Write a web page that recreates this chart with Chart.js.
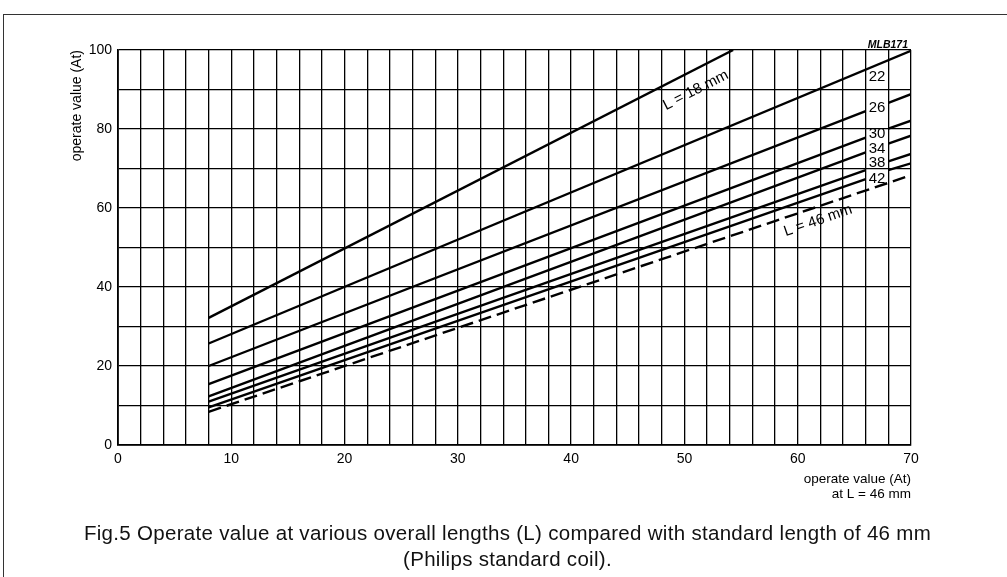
<!DOCTYPE html>
<html>
<head>
<meta charset="utf-8">
<script src="https://cdn.jsdelivr.net/npm/chart.js@4"></script>
<style>
  html, body { margin: 0; padding: 0; background: #fff; }
  body { width: 1007px; height: 577px; overflow: hidden; position: relative; font-family: "Liberation Sans", Arial, sans-serif; }
  #frame { position: absolute; left: 3px; top: 14px; width: 1100px; height: 700px; border-left: 1.5px solid #333; border-top: 1.5px solid #333; }
  #chart { position: absolute; left: 0; top: 0; }
  #caption { position: absolute; left: 0; top: 520px; width: 1015px; text-align: center; font-size: 20.5px; line-height: 26px; letter-spacing: 0.3px; color: #111; }
</style>
</head>
<body>
<div id="frame"></div>
<canvas id="chart" width="1007" height="577"></canvas>
<div id="caption">Fig.5 Operate value at various overall lengths (L) compared with standard length of 46 mm<br>(Philips standard coil).</div>
<script>
// operate value at L = 46 mm (x) vs operate value at other lengths (y)
const xShort = [8, 54.3];          // L = 18 runs off the top
const l18 = [32.2, 100];
const xFull = [8, 70];
const l22 = [25.7, 99.8];
const l46 = [8.4, 68.3];
// these curves are broken where the length label sits
const xBroken = [8, 66, 67, 68, 70];
const l26 = [20.0, 84.5, null, 86.6, 88.8];
const l30 = [15.4, 77.8, null, 80.1, 82.1];
const l34 = [12.3, 74.1, null, 76.3, 78.3];
const l38 = [11.0, 69.6, null, 71.8, 73.7];
const l42 = [9.5, 67.3, null, 69.6, 71.3];

// curve labels
const lengthLabels = ['22', '26', '30', '34', '38', '42'];
const lengthLabelX = 67;
const lengthLabelY = [93.3, 85.4, 78.7, 74.9, 71.5, 67.4];
const slantLabels = ['L = 18 mm', 'L = 46 mm'];
const slantX = [51.0, 61.8];
const slantY = [89.8, 56.8];
const slantAngle = [-27, -19];

const FONT = '"Liberation Sans", Arial, sans-serif';

function pts(xs, ys) {
  return xs.map((x, i) => ({ x: x, y: ys[i] }));
}

function curve(xs, ys, dashed) {
  return {
    data: pts(xs, ys),
    borderColor: '#000',
    borderWidth: 2.4,
    borderDash: dashed ? [13, 6] : [],
    pointRadius: 0,
    fill: false,
    spanGaps: false,
    tension: 0
  };
}

const curveLabels = {
  id: 'curveLabels',
  afterDatasetsDraw(chart) {
    const { ctx, scales: { x, y }, chartArea } = chart;
    ctx.save();
    ctx.fillStyle = '#000';
    ctx.textAlign = 'center';
    ctx.textBaseline = 'middle';
    ctx.font = '15px ' + FONT;
    lengthLabels.forEach((t, i) => {
      ctx.fillText(t, x.getPixelForValue(lengthLabelX), y.getPixelForValue(lengthLabelY[i]));
    });
    slantLabels.forEach((t, i) => {
      ctx.save();
      ctx.translate(x.getPixelForValue(slantX[i]), y.getPixelForValue(slantY[i]));
      ctx.rotate(slantAngle[i] * Math.PI / 180);
      ctx.fillText(t, 0, 0);
      ctx.restore();
    });
    // drawing code
    ctx.font = 'italic bold 10.5px ' + FONT;
    ctx.textAlign = 'right';
    ctx.textBaseline = 'alphabetic';
    ctx.fillText('MLB171', chartArea.right - 3, chartArea.top - 2);
    ctx.restore();
  }
};

new Chart(document.getElementById('chart'), {
  type: 'line',
  data: {
    datasets: [
      curve(xShort, l18),
      curve(xFull, l22),
      curve(xBroken, l26),
      curve(xBroken, l30),
      curve(xBroken, l34),
      curve(xBroken, l38),
      curve(xBroken, l42),
      curve(xFull, l46, true)
    ]
  },
  options: {
    responsive: false,
    animation: false,
    devicePixelRatio: 1,
    layout: { padding: { left: 68, top: 50, right: 96, bottom: 75 } },
    plugins: {
      legend: { display: false },
      tooltip: { enabled: false }
    },
    scales: {
      x: {
        type: 'linear',
        min: 0,
        max: 70,
        afterFit(scale) { scale.height = 57; },
        ticks: {
          stepSize: 2,
          autoSkip: false,
          maxRotation: 0,
          padding: 6,
          color: '#000',
          font: { family: FONT, size: 14 },
          callback: v => (v % 10 === 0 ? v : '')
        },
        grid: { color: '#000', lineWidth: 1.3, drawTicks: false },
        border: { color: '#000', width: 1.8 },
        title: {
          display: true,
          align: 'end',
          text: ['operate value (At)', 'at L = 46 mm'],
          color: '#000',
          font: { family: FONT, size: 13.5, lineHeight: 1.11 },
          padding: 0
        }
      },
      y: {
        min: 0,
        max: 100,
        afterFit(scale) { scale.width = 50; },
        ticks: {
          stepSize: 10,
          autoSkip: false,
          padding: 6,
          color: '#000',
          font: { family: FONT, size: 14 },
          callback: v => (v % 20 === 0 ? v : '')
        },
        grid: { color: '#000', lineWidth: 1.3, drawTicks: false },
        border: { color: '#000', width: 1.8 },
        title: {
          display: true,
          align: 'end',
          text: 'operate value (At)',
          color: '#000',
          font: { family: FONT, size: 14 },
          padding: { top: 1 }
        }
      }
    }
  },
  plugins: [curveLabels]
});
</script>
</body>
</html>
